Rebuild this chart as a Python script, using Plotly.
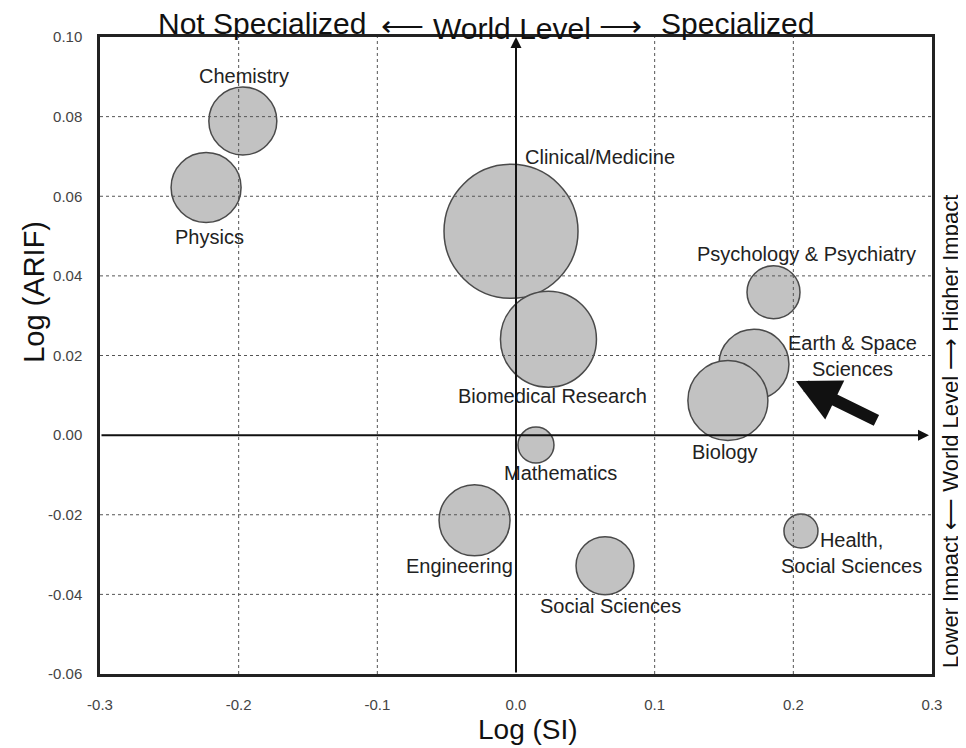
import plotly.graph_objects as go

# ---------------- data ----------------
fields = ["Chemistry", "Physics", "Clinical/Medicine", "Biomedical Research",
          "Mathematics", "Engineering", "Social Sciences",
          "Psychology & Psychiatry", "Earth & Space<br>Sciences", "Biology",
          "Health,<br>Social Sciences"]
log_si = [-0.197, -0.2235, -0.0036, 0.0234, 0.0144, -0.0299, 0.0642,
          0.1857, 0.1716, 0.1528, 0.2055]
log_arif = [0.0789, 0.0622, 0.0512, 0.0241, -0.0025, -0.0214, -0.0328,
            0.0359, 0.0178, 0.0087, -0.0241]
relative_output = [68, 70, 134, 96, 36, 71, 58, 53, 70, 80, 34]

x_ticks = [-0.3, -0.2, -0.1, 0.0, 0.1, 0.2, 0.3]
x_tick_labels = ["-0.3", "-0.2", "-0.1", "0.0", "0.1", "0.2", "0.3"]
y_ticks = [-0.06, -0.04, -0.02, 0.00, 0.02, 0.04, 0.06, 0.08, 0.10]
y_tick_labels = ["-0.06", "-0.04", "-0.02", "0.00", "0.02", "0.04", "0.06", "0.08", "0.10"]

x_range = [-0.3, 0.3]
y_range = [-0.06, 0.10]

# ---------------- styling / placement ----------------
FONT = "Liberation Sans, Arial, Helvetica, sans-serif"
label_offsets = {  # pixel offsets (xshift, yshift) of labels from bubble centres
    "Chemistry": (1, 45),
    "Physics": (3, -50),
    "Clinical/Medicine": (89, 74),
    "Biomedical Research": (4, -57),
    "Mathematics": (25, -28),
    "Engineering": (-15, -46),
    "Social Sciences": (5, -40),
    "Psychology & Psychiatry": (33, 38),
    "Earth & Space<br>Sciences": (99, 8),
    "Biology": (-3, -52),
    "Health,<br>Social Sciences": (51, -22),
}
pointer_tip = (0.2019, 0.0136)
pointer_tail = (0.261, 0.0035)

fig = go.Figure()
fig.add_trace(go.Scatter(
    x=log_si, y=log_arif, mode="markers",
    marker=dict(size=relative_output, sizemode="diameter", sizeref=1,
                color="#c2c2c2", opacity=1,
                line=dict(color="#4a4a4a", width=1.5)),
    hoverinfo="text", text=fields,
))

shapes = []
for xv in x_ticks[1:-1]:
    if xv == 0:
        continue
    shapes.append(dict(type="line", xref="x", yref="y", x0=xv, x1=xv,
                       y0=y_range[0], y1=y_range[1], layer="above",
                       line=dict(color="#555", width=1, dash="dot")))
for yv in y_ticks[1:-1]:
    if yv == 0:
        continue
    shapes.append(dict(type="line", xref="x", yref="y", x0=x_range[0], x1=x_range[1],
                       y0=yv, y1=yv, layer="above",
                       line=dict(color="#555", width=1, dash="dot")))

annotations = []
# bubble labels
for name, xv, yv in zip(fields, log_si, log_arif):
    dx, dy = label_offsets[name]
    annotations.append(dict(x=xv, y=yv, xref="x", yref="y", text=name,
                            showarrow=False, xshift=dx, yshift=dy,
                            xanchor="center", yanchor="middle",
                            font=dict(size=20, color="#222", family=FONT),
                            align="center"))
# axis arrows through origin
annotations.append(dict(x=0, y=y_range[1], ax=0, ay=y_range[0], xref="x", yref="y",
                        axref="x", ayref="y", text="", showarrow=True,
                        arrowhead=2, arrowsize=1.1, arrowwidth=2, arrowcolor="#111",
                        standoff=0))
annotations.append(dict(x=x_range[1], y=0, ax=x_range[0], ay=0, xref="x", yref="y",
                        axref="x", ayref="y", text="", showarrow=True,
                        arrowhead=2, arrowsize=1.1, arrowwidth=2, arrowcolor="#111",
                        standoff=3))
# big pointer arrow
annotations.append(dict(x=pointer_tip[0], y=pointer_tip[1], ax=pointer_tail[0],
                        ay=pointer_tail[1], xref="x", yref="y", axref="x", ayref="y",
                        text="", showarrow=True, arrowhead=2, arrowsize=0.72,
                        arrowwidth=12, arrowcolor="#111", standoff=0))
# top title pieces
top_parts = [("Not Specialized", 0.1953, 14), ("\u27f5", 0.3636, 12),
             ("World Level", 0.4952, 9), ("\u27f6", 0.6262, 12),
             ("Specialized", 0.7668, 14)]
for txt, xp, ys in top_parts:
    annotations.append(dict(x=xp, y=1, xref="paper", yref="paper", text=txt,
                            showarrow=False, yshift=ys, xanchor="center",
                            yanchor="middle",
                            font=dict(size=30, color="#111", family=FONT)))
# axis titles
annotations.append(dict(x=0.5, y=0, xref="paper", yref="paper", text="Log (SI)",
                        showarrow=False, xshift=12, yshift=-55, xanchor="center",
                        yanchor="middle",
                        font=dict(size=28, color="#111", family=FONT)))
annotations.append(dict(x=0, y=0.6, xref="paper", yref="paper", text="Log (ARIF)",
                        showarrow=False, xshift=-66, textangle=-90, xanchor="center",
                        yanchor="middle",
                        font=dict(size=29, color="#111", family=FONT)))
annotations.append(dict(x=1, y=0.38, xref="paper", yref="paper",
                        text="Lower Impact \u27f5 World Level \u27f6 Higher Impact",
                        showarrow=False, xshift=19, textangle=-90,
                        xanchor="center", yanchor="middle",
                        font=dict(size=22, color="#111", family=FONT)))

fig.update_layout(
    width=959, height=741,
    margin=dict(l=92, r=35, t=29, b=75),
    plot_bgcolor="white", paper_bgcolor="white",
    showlegend=False,
    font=dict(family=FONT, color="#222"),
    shapes=shapes, annotations=annotations,
)
fig.update_xaxes(range=x_range, tickvals=x_ticks, ticktext=x_tick_labels,
                 showgrid=False, zeroline=False, showline=True, mirror=True,
                 linecolor="#222", linewidth=2.5, ticks="",
                 tickfont=dict(size=15, color="#444", family=FONT),
                 ticklabelstandoff=15)
fig.update_yaxes(range=y_range, tickvals=y_ticks, ticktext=y_tick_labels,
                 showgrid=False, zeroline=False, showline=True, mirror=True,
                 linecolor="#222", linewidth=2.5, ticks="",
                 tickfont=dict(size=15, color="#444", family=FONT),
                 ticklabelstandoff=12)

fig.write_html("out.html")
